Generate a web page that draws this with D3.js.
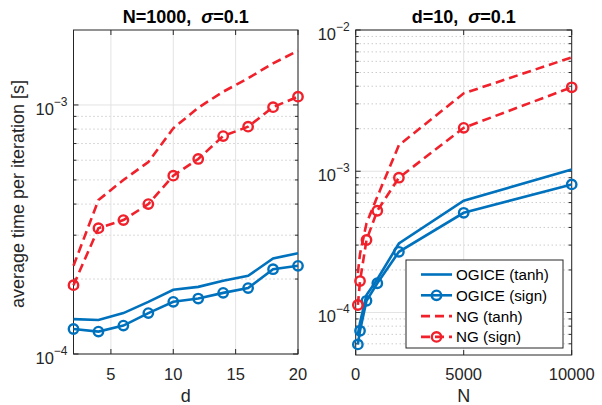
<!DOCTYPE html>
<html>
<head>
<meta charset="utf-8">
<script src="https://cdn.jsdelivr.net/npm/d3@7"></script>
<style>
  body{margin:0;background:#fff;}
  svg{display:block;font-family:"Liberation Sans",Arial,sans-serif;}
</style>
</head>
<body>
<div id="chart"></div>
<script>
// left panel: N=1000, sigma=0.1, x = d
const dVals=[2,4,6,8,10,12,14,16,18,20];
const leftOgiceTanh=[1.38e-4,1.37e-4,1.46e-4,1.62e-4,1.81e-4,1.86e-4,1.97e-4,2.06e-4,2.42e-4,2.54e-4];
const leftOgiceSign=[1.26e-4,1.23e-4,1.30e-4,1.46e-4,1.62e-4,1.67e-4,1.76e-4,1.84e-4,2.19e-4,2.26e-4];
const leftNgTanh=[2.26e-4,4.15e-4,5.0e-4,5.9e-4,8.06e-4,9.75e-4,1.13e-3,1.28e-3,1.47e-3,1.65e-3];
const leftNgSign=[1.89e-4,3.2e-4,3.45e-4,4.0e-4,5.2e-4,6.07e-4,7.5e-4,8.18e-4,9.8e-4,1.08e-3];

// right panel: d=10, sigma=0.1, x = N
const nVals=[100,200,500,1000,2000,5000,10000];
const rightOgiceTanh=[7.0e-5,8.5e-5,1.33e-4,1.72e-4,3.08e-4,6.18e-4,1.03e-3];
const rightOgiceSign=[5.94e-5,7.42e-5,1.21e-4,1.61e-4,2.69e-4,5.08e-4,8.07e-4];
const rightNgTanh=[1.9e-4,2.6e-4,4.28e-4,6.6e-4,1.53e-3,3.56e-3,6.4e-3];
const rightNgSign=[1.13e-4,1.67e-4,3.26e-4,5.25e-4,9.0e-4,2.03e-3,3.93e-3];

const seriesNames=["OGICE (tanh)","OGICE (sign)","NG (tanh)","NG (sign)"];
const leftXTicks=[5,10,15,20];
const rightXTicks=[0,5000,10000];
const leftYExps=[-4,-3];
const rightYExps=[-4,-3,-2];

const blue="#0072bd", red="#f0212b", axisCol="#262626";
const w=602, h=405;

const svg=d3.select("#chart").append("svg").attr("width",w).attr("height",h);

function panel(opt){
  const {x,y,xs,series,title,sigmaTitle,xLabel,xTicks,yExps,minors}=opt;
  const g=svg.append("g");
  const [x0,x1]=x.range(), [y0,y1]=y.range();

  // minor grid (dotted)
  g.selectAll(".minor").data(minors).enter().append("line")
    .attr("x1",x0).attr("x2",x1)
    .attr("y1",d=>y(d)).attr("y2",d=>y(d))
    .attr("stroke","#b4b4b4").attr("stroke-width",1).attr("stroke-dasharray","1,3");
  // major grid
  g.selectAll(".majY").data(yExps.map(e=>Math.pow(10,e))).enter().append("line")
    .attr("x1",x0).attr("x2",x1)
    .attr("y1",d=>y(d)).attr("y2",d=>y(d))
    .attr("stroke","#e3e3e3").attr("stroke-width",1);
  g.selectAll(".majX").data(xTicks).enter().append("line")
    .attr("x1",d=>x(d)).attr("x2",d=>x(d))
    .attr("y1",y1).attr("y2",y0)
    .attr("stroke","#e3e3e3").attr("stroke-width",1);

  // box
  g.append("rect").attr("x",x0).attr("y",y1).attr("width",x1-x0).attr("height",y0-y1)
    .attr("fill","none").attr("stroke",axisCol).attr("stroke-width",1);

  // ticks (inside, mirrored)
  const tk=5, tkm=3;
  xTicks.forEach(t=>{
    g.append("line").attr("x1",x(t)).attr("x2",x(t)).attr("y1",y0).attr("y2",y0-tk).attr("stroke",axisCol);
    g.append("line").attr("x1",x(t)).attr("x2",x(t)).attr("y1",y1).attr("y2",y1+tk).attr("stroke",axisCol);
    g.append("text").attr("x",x(t)).attr("y",379.5).attr("text-anchor","middle")
      .attr("font-size",16.5).attr("fill",axisCol).text(t);
  });
  yExps.forEach(e=>{
    const v=y(Math.pow(10,e));
    g.append("line").attr("x1",x0).attr("x2",x0+tk).attr("y1",v).attr("y2",v).attr("stroke",axisCol);
    g.append("line").attr("x1",x1).attr("x2",x1-tk).attr("y1",v).attr("y2",v).attr("stroke",axisCol);
    const t=g.append("text").attr("x",x0-6).attr("y",v+10).attr("text-anchor","end")
      .attr("fill",axisCol).attr("font-size",16.5);
    t.append("tspan").text("10");
    t.append("tspan").attr("dy",-9).attr("font-size",12).text("\u2212"+Math.abs(e));
  });
  minors.forEach(m=>{
    const v=y(m);
    g.append("line").attr("x1",x0).attr("x2",x0+tkm).attr("y1",v).attr("y2",v).attr("stroke",axisCol);
    g.append("line").attr("x1",x1).attr("x2",x1-tkm).attr("y1",v).attr("y2",v).attr("stroke",axisCol);
  });

  // series
  const line=d3.line().x(d=>x(d[0])).y(d=>y(d[1]));
  series.forEach(s=>{
    const pts=xs.map((v,i)=>[v,s.vals[i]]);
    g.append("path").datum(pts).attr("d",line).attr("fill","none")
      .attr("stroke",s.color).attr("stroke-width",2.6)
      .attr("stroke-dasharray",s.dash?"9,5":null);
    if(s.marker){
      g.selectAll(null).data(pts).enter().append("circle")
        .attr("cx",d=>x(d[0])).attr("cy",d=>y(d[1])).attr("r",4.7)
        .attr("fill","none").attr("stroke",s.color).attr("stroke-width",2.4);
    }
  });

  // title
  const tt=svg.append("text").attr("x",(x0+x1)/2).attr("y",23).attr("text-anchor","middle")
    .attr("font-size",18).attr("font-weight","bold").attr("fill","#000")
    .style("white-space","pre");
  tt.append("tspan").text(title+",  ");
  tt.append("tspan").attr("font-style","italic").text("\u03c3");
  tt.append("tspan").text(sigmaTitle);

  // x label
  svg.append("text").attr("x",(x0+x1)/2).attr("y",401.5).attr("text-anchor","middle")
    .attr("font-size",18).attr("fill",axisCol).text(xLabel);
}

function minorTicks(lo,hi){
  const out=[];
  for(let e=-6;e<=-1;e++){
    for(let k=2;k<=9;k++){
      const v=k*Math.pow(10,e);
      if(v>lo*1.0001 && v<hi*0.9999) out.push(v);
    }
  }
  return out;
}

const colorOf=[blue,blue,red,red];
const dashOf=[false,false,true,true];
const markOf=[false,true,false,true];

const xL=d3.scaleLinear().domain([2,20]).range([73.5,298]);
const yL=d3.scaleLog().domain([1e-4,2e-3]).range([354,30]);
panel({
  x:xL,y:yL,xs:dVals,
  series:[leftOgiceTanh,leftOgiceSign,leftNgTanh,leftNgSign].map((v,i)=>({vals:v,color:colorOf[i],dash:dashOf[i],marker:markOf[i]})),
  title:"N=1000",sigmaTitle:"=0.1",xLabel:"d",xTicks:leftXTicks,yExps:leftYExps,
  minors:minorTicks(1e-4,2e-3)
});

const xR=d3.scaleLinear().domain([0,10000]).range([355.7,571.7]);
const yR=d3.scaleLog().domain([5e-5,1e-2]).range([355,30]);
panel({
  x:xR,y:yR,xs:nVals,
  series:[rightOgiceTanh,rightOgiceSign,rightNgTanh,rightNgSign].map((v,i)=>({vals:v,color:colorOf[i],dash:dashOf[i],marker:markOf[i]})),
  title:"d=10",sigmaTitle:"=0.1",xLabel:"N",xTicks:rightXTicks,yExps:rightYExps,
  minors:minorTicks(5e-5,1e-2)
});

// y axis label
svg.append("text")
  .attr("transform","translate(24,194) rotate(-90)")
  .attr("text-anchor","middle").attr("font-size",18).attr("fill",axisCol)
  .text("average time per iteration [s]");

// legend
const legend=svg.append("g");
legend.append("rect").attr("x",406).attr("y",260).attr("width",157).attr("height",88)
  .attr("fill","#fff").attr("stroke",axisCol).attr("stroke-width",1);
seriesNames.forEach((name,i)=>{
  const ly=274.5+i*20.8;
  legend.append("line").attr("x1",421).attr("x2",452).attr("y1",ly).attr("y2",ly)
    .attr("stroke",colorOf[i]).attr("stroke-width",2.6)
    .attr("stroke-dasharray",dashOf[i]?"9,5":null);
  if(markOf[i]){
    legend.append("circle").attr("cx",436.5).attr("cy",ly).attr("r",4.7)
      .attr("fill","none").attr("stroke",colorOf[i]).attr("stroke-width",2.4);
  }
  legend.append("text").attr("x",456).attr("y",ly+5.5).attr("font-size",15.2)
    .attr("fill","#000").text(name);
});
</script>
</body>
</html>
